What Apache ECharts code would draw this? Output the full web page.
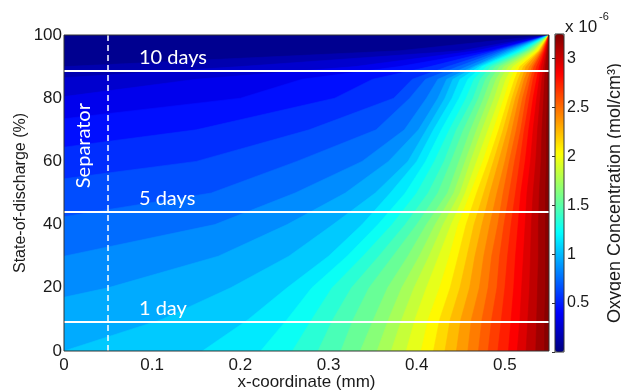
<!DOCTYPE html>
<html>
<head>
<meta charset="utf-8">
<script src="https://cdn.jsdelivr.net/npm/echarts@6/dist/echarts.min.js"></script>
<style>
  html, body { margin: 0; background: #fff; }
  #chart { width: 621px; height: 390px; }
</style>
</head>
<body>
<div id="chart"></div>
<script>
const n = null
// SOC rows (%) on which the contour crossings were read
const socRows = [0, 10, 20, 30, 40, 50, 60, 70, 80, 86, 90, 95, 100]
// contour levels, x 1e-6 mol/cm3
const levels = [0.1, 0.2, 0.3, 0.4, 0.5, 0.6, 0.7, 0.8, 0.9, 1.0, 1.1, 1.2, 1.3, 1.4, 1.5, 1.6,
  1.7, 1.8, 1.9, 2.0, 2.1, 2.2, 2.3, 2.4, 2.5, 2.6, 2.7, 2.8, 2.9, 3.0, 3.1, 3.2]
const cMax = 3.25
const xMax = 0.55
// SOC where a level meets the left edge (null: it starts on the bottom edge)
const edgeSoc = [90, 86.5, 80.5, 73.5, 64.5, 54.5, 42.5, 30, 17, n, n, n, n, n, n, n,
  n, n, n, n, n, n, n, n, n, n, n, n, n, n, n, n]
// x-coordinate (mm) of each level on each SOC row (null: whole row above the level)
const contourX = [
  [n, n, n, n, n, n, n, n, n, n, n, 0.38, 0.55],
  [n, n, n, n, n, n, n, n, n, n, 0.2, 0.45, 0.55],
  [n, n, n, n, n, n, n, n, n, 0.15, 0.33, 0.467, 0.55],
  [n, n, n, n, n, n, n, n, 0.2, 0.27, 0.38, 0.482, 0.55],
  [n, n, n, n, n, n, n, 0.15, 0.307, 0.35, 0.415, 0.487, 0.55],
  [n, n, n, n, n, n, 0.15, 0.278, 0.374, 0.395, 0.435, 0.491, 0.55],
  [n, n, n, n, n, 0.167, 0.264, 0.354, 0.392, 0.41, 0.447, 0.496, 0.55],
  [n, n, n, n, 0.171, 0.262, 0.338, 0.386, 0.411, 0.424, 0.457, 0.5, 0.55],
  [n, n, 0.05, 0.175, 0.253, 0.319, 0.368, 0.402, 0.424, 0.434, 0.464, 0.504, 0.55],
  [0, 0.111, 0.189, 0.255, 0.305, 0.353, 0.39, 0.411, 0.432, 0.441, 0.467, 0.508, 0.55],
  [0.157, 0.209, 0.253, 0.3, 0.338, 0.37, 0.4, 0.419, 0.44, 0.449, 0.471, 0.512, 0.55],
  [0.223, 0.253, 0.281, 0.321, 0.356, 0.387, 0.41, 0.428, 0.448, 0.458, 0.474, 0.516, 0.55],
  [0.259, 0.281, 0.304, 0.339, 0.372, 0.4, 0.42, 0.437, 0.456, 0.465, 0.479, 0.519, 0.55],
  [0.288, 0.305, 0.326, 0.357, 0.387, 0.413, 0.431, 0.445, 0.464, 0.472, 0.484, 0.522, 0.55],
  [0.314, 0.328, 0.346, 0.373, 0.4, 0.424, 0.439, 0.453, 0.47, 0.478, 0.489, 0.525, 0.55],
  [0.336, 0.351, 0.367, 0.39, 0.411, 0.435, 0.448, 0.461, 0.476, 0.484, 0.494, 0.527, 0.55],
  [0.355, 0.368, 0.383, 0.403, 0.421, 0.442, 0.455, 0.468, 0.482, 0.49, 0.499, 0.53, 0.55],
  [0.371, 0.383, 0.397, 0.414, 0.43, 0.449, 0.461, 0.474, 0.488, 0.495, 0.504, 0.532, 0.55],
  [0.388, 0.398, 0.411, 0.425, 0.439, 0.455, 0.468, 0.481, 0.494, 0.501, 0.509, 0.534, 0.55],
  [0.405, 0.413, 0.426, 0.437, 0.447, 0.461, 0.475, 0.487, 0.499, 0.506, 0.514, 0.536, 0.55],
  [0.419, 0.426, 0.438, 0.447, 0.456, 0.468, 0.481, 0.493, 0.504, 0.511, 0.517, 0.538, 0.55],
  [0.432, 0.438, 0.449, 0.457, 0.465, 0.476, 0.487, 0.498, 0.508, 0.515, 0.521, 0.539, 0.55],
  [0.445, 0.45, 0.46, 0.466, 0.474, 0.483, 0.493, 0.503, 0.512, 0.519, 0.524, 0.54, 0.55],
  [0.458, 0.462, 0.471, 0.476, 0.483, 0.491, 0.5, 0.508, 0.516, 0.522, 0.528, 0.541, 0.55],
  [0.47, 0.474, 0.481, 0.485, 0.492, 0.498, 0.505, 0.513, 0.52, 0.526, 0.531, 0.542, 0.55],
  [0.481, 0.485, 0.491, 0.494, 0.499, 0.505, 0.511, 0.518, 0.524, 0.529, 0.533, 0.543, 0.55],
  [0.492, 0.496, 0.5, 0.503, 0.507, 0.512, 0.517, 0.522, 0.528, 0.532, 0.536, 0.544, 0.55],
  [0.504, 0.507, 0.51, 0.512, 0.515, 0.518, 0.523, 0.527, 0.532, 0.536, 0.539, 0.545, 0.55],
  [0.514, 0.517, 0.519, 0.521, 0.523, 0.525, 0.529, 0.532, 0.536, 0.539, 0.541, 0.546, 0.55],
  [0.524, 0.526, 0.528, 0.529, 0.53, 0.532, 0.535, 0.537, 0.54, 0.542, 0.544, 0.547, 0.55],
  [0.535, 0.536, 0.537, 0.538, 0.538, 0.539, 0.541, 0.542, 0.544, 0.545, 0.546, 0.548, 0.55],
  [0.545, 0.545, 0.546, 0.546, 0.546, 0.546, 0.547, 0.547, 0.548, 0.548, 0.549, 0.549, 0.55],
]
// discharge time marks
const dayLines = [9.3, 44.1, 88.6]
const dayNames = ['1 day', '5 days', '10 days']
const separatorX = 0.05

const jet = ['#000080', '#0000ff', '#0080ff', '#00ffff', '#80ff80', '#ffff00', '#ff8000', '#ff0000', '#800000']
const axisFont = 'Liberation Sans, Arial, sans-serif'
const noteFont = 'Lato, sans-serif'

// band k = region above level k-1, coloured by its middle value
const bands = [[levels[0] / 2, 0]]
levels.forEach((l, i) => {
  const top = i + 1 < levels.length ? levels[i + 1] : cMax
  bands.push([(l + top) / 2, i + 1])
})

const renderBand = (params, api) => {
  const k = api.value(1)
  let pts
  if (k === 0) {
    pts = [[0, 0], [xMax, 0], [xMax, 100], [0, 100]]
  } else {
    const e = edgeSoc[k - 1]
    pts = []
    if (e !== null) pts.push([0, e])
    contourX[k - 1].forEach((x, j) => {
      if (x !== null) pts.push([x, socRows[j]])
    })
    pts.push([xMax, 0])
    if (e !== null) pts.push([0, 0])
  }
  const c = api.visual('color')
  return {
    type: 'polygon',
    z2: k,
    shape: { points: pts.map((p) => api.coord(p)) },
    style: { fill: c, stroke: c, lineWidth: 0.6 },
  }
}

const chart = echarts.init(document.getElementById('chart'))
const option = {
  animation: false,
  grid: [
    { left: 64, top: 35, width: 485, height: 316, show: true, z: 10, outerBoundsMode: 'none',
      backgroundColor: 'transparent', borderColor: '#333', borderWidth: 1 },
    { left: 555, top: 34, width: 9, height: 318, show: true, z: 10, outerBoundsMode: 'none',
      backgroundColor: 'transparent', borderColor: '#333', borderWidth: 1 },
  ],
  xAxis: [
    {
      gridIndex: 0, type: 'value', min: 0, max: xMax, interval: 0.1,
      axisLine: { show: false }, axisTick: { show: false }, splitLine: { show: false },
      axisLabel: { fontSize: 17, color: '#1a1a1a', fontFamily: axisFont, margin: 6, showMaxLabel: false },
      name: 'x-coordinate (mm)', nameLocation: 'middle', nameGap: 23, nameMoveOverlap: false,
      nameTextStyle: { fontSize: 17, color: '#1a1a1a', fontFamily: axisFont },
    },
    { gridIndex: 1, type: 'value', min: 0, max: 1, show: false },
  ],
  yAxis: [
    {
      gridIndex: 0, type: 'value', min: 0, max: 100, interval: 20,
      axisLine: { show: false }, axisTick: { show: false }, splitLine: { show: false },
      axisLabel: { fontSize: 17, color: '#1a1a1a', fontFamily: axisFont, margin: 2 },
      name: 'State-of-discharge (%)', nameLocation: 'middle', nameGap: 35, nameMoveOverlap: false,
      nameTextStyle: { fontSize: 16, color: '#1a1a1a', fontFamily: axisFont },
    },
    {
      gridIndex: 1, type: 'value', position: 'right', min: 0, max: cMax, interval: 0.5,
      axisLine: { show: false }, splitLine: { show: false },
      axisTick: { show: true, inside: true, length: 3, lineStyle: { color: '#333' } },
      axisLabel: {
        fontSize: 16, color: '#1a1a1a', fontFamily: axisFont, margin: 3, showMaxLabel: false,
        formatter: (v) => (v === 0 ? '' : String(v)),
      },
      name: 'Oxygen Concentration (mol/cm³)', nameLocation: 'middle', nameRotate: 90,
      nameGap: 42, nameMoveOverlap: false,
      nameTextStyle: { fontSize: 18, color: '#1a1a1a', fontFamily: axisFont },
    },
  ],
  visualMap: {
    type: 'continuous', seriesIndex: 0, dimension: 0, min: 0, max: cMax,
    inRange: { color: jet }, calculable: false, orient: 'vertical',
    left: 555, top: 34, itemWidth: 9, itemHeight: 318, padding: 0, hoverLink: false,
  },
  series: [
    {
      type: 'custom', xAxisIndex: 0, yAxisIndex: 0, renderItem: renderBand,
      data: bands, clip: true, silent: true,
    },
    {
      type: 'line', xAxisIndex: 0, yAxisIndex: 0, data: [], z: 5,
      markLine: {
        silent: true, symbol: ['none', 'none'], label: { show: false },
        lineStyle: { color: '#fff', width: 1.8, type: 'solid', opacity: 1 },
        data: dayLines.map((s) => ({ yAxis: s })).concat([
          { xAxis: separatorX, lineStyle: { type: [6, 4], width: 1.5 } },
        ]),
      },
    },
  ],
}
chart.setOption(option)

const px = (x, s) => chart.convertToPixel({ gridIndex: 0 }, [x, s])
const notes = dayNames.map((t, i) => {
  const p = px(0.085, dayLines[i])
  return {
    type: 'text', x: p[0], y: p[1] - 3, z: 100,
    style: { text: t, fill: '#fff', fontSize: 20, fontFamily: noteFont, align: 'left', verticalAlign: 'bottom' },
  }
})
const sep = px(0.022, 65)
notes.push({
  type: 'text', x: sep[0], y: sep[1], rotation: Math.PI / 2, z: 100,
  style: { text: 'Separator', fill: '#fff', fontSize: 20, fontFamily: noteFont, align: 'center', verticalAlign: 'middle' },
})
notes.push({
  type: 'text', x: 565, y: 27, z: 100,
  style: { text: 'x 10', fill: '#1a1a1a', fontSize: 17, fontFamily: axisFont, align: 'left', verticalAlign: 'middle' },
})
notes.push({
  type: 'text', x: 599, y: 17, z: 100,
  style: { text: '-6', fill: '#1a1a1a', fontSize: 11, fontFamily: axisFont, align: 'left', verticalAlign: 'middle' },
})
chart.setOption({ graphic: notes })
</script>
</body>
</html>
